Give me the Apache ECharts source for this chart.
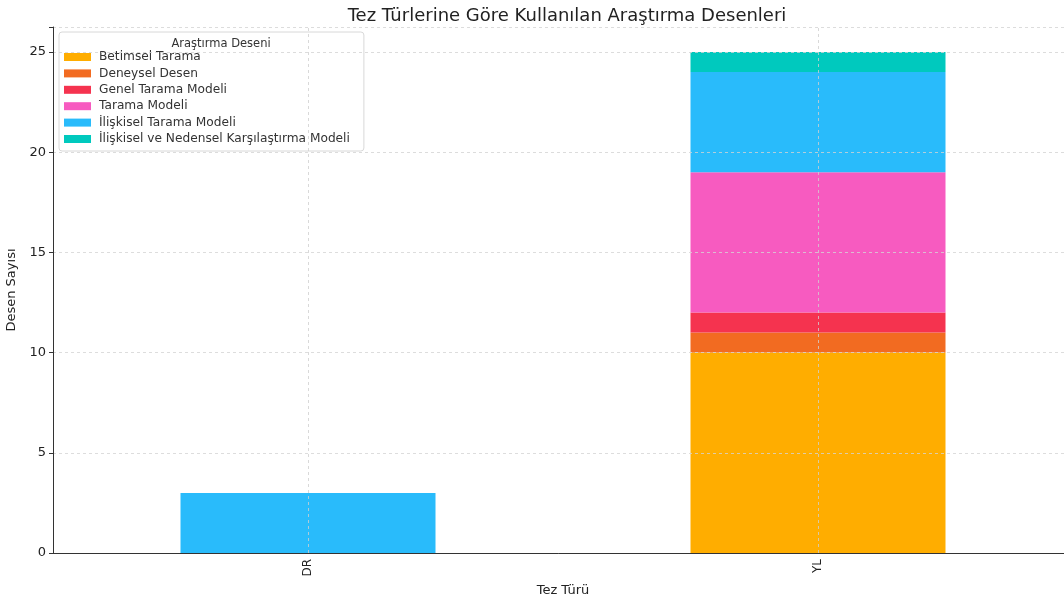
<!DOCTYPE html>
<html>
<head>
<meta charset="utf-8">
<script src="https://cdn.jsdelivr.net/npm/echarts@6/dist/echarts.min.js"></script>
<style>
  html, body { margin: 0; padding: 0; background: #fff; overflow: hidden; }
  #chartBox { width: 1064px; height: 598px; }
</style>
</head>
<body>
<div id="chartBox"></div>
<script>
// kategoriler ve seriler
const categories = ['DR', 'YL'];
const seriesNames = [
  'Betimsel Tarama',
  'Deneysel Desen',
  'Genel Tarama Modeli',
  'Tarama Modeli',
  'İlişkisel Tarama Modeli',
  'İlişkisel ve Nedensel Karşılaştırma Modeli'
];
const betimsel = [0, 10];
const deneysel = [0, 1];
const genelTarama = [0, 1];
const tarama = [0, 7];
const iliskiselTarama = [3, 5];
const iliskiselNedensel = [0, 1];
const yTicks = [0, 5, 10, 15, 20, 25];

const values = [betimsel, deneysel, genelTarama, tarama, iliskiselTarama, iliskiselNedensel];
const colors = ['#ffad00', '#f26b21', '#f5334f', '#f75bc0', '#29bbfb', '#00c9be'];
const font = 'DejaVu Sans';

let myChart = echarts.init(document.getElementById('chartBox'));

let series = seriesNames.map(function (name, i) {
  return {
    name: name,
    type: 'bar',
    stack: 'total',
    barWidth: '50%',
    itemStyle: { color: colors[i] },
    data: values[i].map(function (v) { return v === 0 ? null : v; })
  };
});
// dikey ızgara çizgileri kategori merkezlerinde
series[0].markLine = {
  silent: true,
  symbol: 'none',
  label: { show: false },
  z: 10,
  lineStyle: { color: '#d0d0d0', type: [3, 3], width: 0.8 },
  data: categories.map(function (c) { return { xAxis: c }; })
};

myChart.setOption({
  animation: false,
  textStyle: { fontFamily: font },
  title: [{
    text: 'Tez Türlerine Göre Kullanılan Araştırma Desenleri',
    left: 562,
    textAlign: 'center',
    top: 2,
    textStyle: { fontFamily: font, fontSize: 18, fontWeight: 'normal', color: '#222' }
  }, {
    text: 'Araştırma Deseni',
    left: 216,
    textAlign: 'center',
    top: 33,
    z: 20,
    textStyle: { fontFamily: font, fontSize: 11.5, fontWeight: 'normal', color: '#333' }
  }],
  legend: {
    orient: 'vertical',
    left: 59,
    top: 32,
    padding: [18, 14, 5, 5],
    itemGap: 2.4,
    itemWidth: 27,
    itemHeight: 8,
    backgroundColor: 'rgba(255,255,255,0.85)',
    borderColor: '#d8d8d8',
    borderWidth: 1,
    borderRadius: 3,
    icon: 'rect',
    textStyle: { fontFamily: font, fontSize: 12.2, color: '#333', lineHeight: 14, padding: [0, 0, 0, 3] },
    data: seriesNames
  },
  grid: { left: 53, right: -9, top: 27, bottom: 45, containLabel: false, outerBoundsMode: 'none' },
  xAxis: {
    type: 'category',
    data: categories,
    z: 6,
    name: 'Tez Türü',
    nameLocation: 'middle',
    nameGap: 27,
    nameTextStyle: { fontFamily: font, fontSize: 13, color: '#222' },
    axisLine: { lineStyle: { color: '#333', width: 1 } },
    axisTick: { alignWithLabel: true, length: 4, lineStyle: { color: '#333' } },
    axisLabel: { rotate: 90, fontSize: 12, color: '#222', margin: 6 },
    splitLine: { show: false }
  },
  yAxis: {
    type: 'value',
    min: 0,
    max: 26.25,
    interval: 5,
    z: 5,
    name: 'Desen Sayısı',
    nameLocation: 'middle',
    nameGap: 32,
    nameTextStyle: { fontFamily: font, fontSize: 13, color: '#222' },
    axisLine: { show: true, lineStyle: { color: '#333', width: 1 } },
    axisTick: { show: true, length: 4, lineStyle: { color: '#333' } },
    axisLabel: {
      fontSize: 13,
      color: '#222',
      margin: 7,
      formatter: function (v) { return yTicks.indexOf(v) >= 0 ? String(v) : ''; }
    },
    splitLine: { show: true, lineStyle: { color: '#d4d4d4', type: [3, 3], width: 0.8 } }
  },
  series: series
});
</script>
</body>
</html>
